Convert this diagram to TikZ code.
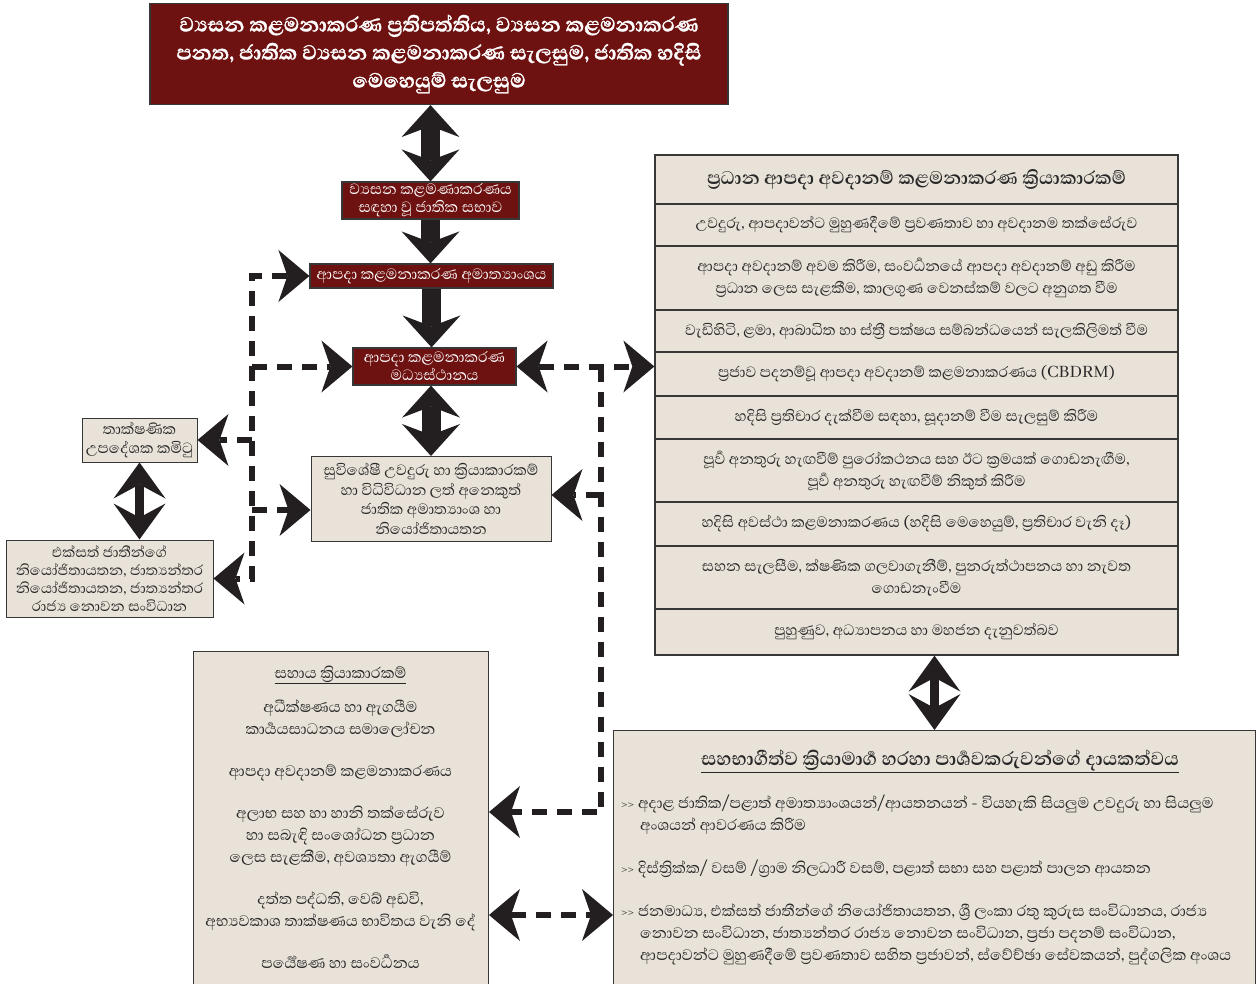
\documentclass[tikz,border=0pt]{standalone}
\usepackage{fontspec}
\setmainfont[Script=Sinhala]{Abhaya Libre}
\newfontfamily\heavyfont[Script=Sinhala,BoldFeatures={FakeBold=1.2}]{Abhaya Libre}
\usetikzlibrary{arrows.meta}
\definecolor{dred}{RGB}{110,17,17}
\definecolor{beige}{RGB}{232,226,216}
\definecolor{bordc}{RGB}{55,55,55}
\definecolor{arrc}{RGB}{35,31,32}
\definecolor{txtc}{RGB}{40,40,40}
\newcommand{\gts}{{\fontsize{14.5}{14}\selectfont >{}>}}
\begin{document}
\begin{tikzpicture}[x=1pt,y=-1pt,
  redbox/.style={draw=bordc,line width=1.2pt,fill=dred,text=white,align=center,inner sep=0pt},
  beigebox/.style={draw=bordc,line width=1pt,fill=beige,text=txtc,align=center,inner sep=0pt},
  rowbox/.style={beigebox,minimum width=523pt,line width=1.3pt,font=\fontsize{19}{22}\selectfont},
  ftip/.tip={Stealth[length=32pt,width=58pt,inset=11pt,line width=0pt]},
  ttip/.tip={Stealth[length=36pt,width=52pt,inset=14pt,line width=0pt]},
  dtip/.tip={Stealth[length=31pt,width=52pt,inset=9pt,line width=0pt]},
  fatline/.style={draw=arrc,line width=19pt},
  thinline/.style={draw=arrc,line width=9pt},
  dashconn/.style={draw=arrc,line width=6pt,dash pattern=on 15pt off 10pt}
]
\useasboundingbox (0,0) rectangle (1258,984);
\fill[white] (0,0) rectangle (1258,984);

% central column
\node[redbox,minimum width=578pt,minimum height=101pt,font=\heavyfont\bfseries\fontsize{26}{28}\selectfont] (top) at (439,54)
 {ව්^^^^200dයසන කළමනාකරණ ප්^^^^200dරතිපත්තිය, ව්^^^^200dයසන කළමනාකරණ\\
  පනත, ජාතික ව්^^^^200dයසන කළමනාකරණ සැලසුම, ජාතික හදිසි\\
  මෙහෙයුම් සැලසුම};
\node[redbox,minimum width=177pt,minimum height=37pt,font=\fontsize{19}{18}\selectfont] (box2) at (430.5,200.5)
 {ව්^^^^200dයසන කළමණාකරණය\\ සඳහා වූ ජාතික සභාව};
\node[redbox,minimum width=243pt,minimum height=24pt,font=\fontsize{19}{18}\selectfont] (box3) at (431.5,276)
 {ආපදා කළමනාකරණ අමාත්^^^^200dයාංශය};
\node[redbox,minimum width=163pt,minimum height=37pt,font=\fontsize{19}{18}\selectfont] (box4) at (434.5,366.5)
 {ආපදා කළමනාකරණ\\ මධ්^^^^200dයස්ථානය};
\node[beigebox,minimum width=240pt,minimum height=85pt,font=\fontsize{19}{19.5}\selectfont] (box5) at (431,499)
 {සුවිශේෂී උවදුරු හා ක්^^^^200dරියාකාරකම්\\ හා විධිවිධාන ලත් අනෙකුත්\\ ජාතික අමාත්^^^^200dයාංශ හා\\ නියෝජිතායතන};

% left column
\node[beigebox,minimum width=115pt,minimum height=44pt,font=\fontsize{19}{19}\selectfont] (box6) at (139.5,440)
 {තාක්ෂණික\\ උපදේශක කමිටු};
\node[beigebox,minimum width=207pt,minimum height=77pt,font=\fontsize{18.3}{18}\selectfont] (box7) at (109.5,578.5)
 {එක්සත් ජාතීන්ගේ\\ නියෝජිතායතන, ජාත්^^^^200dයන්තර\\ නියෝජිතායතන, ජාත්^^^^200dයන්තර\\ රාජ්^^^^200dය නොවන සංවිධාන};

% right table
\node[rowbox,minimum height=49pt,font=\bfseries\fontsize{23.4}{24}\selectfont] (row1) at (916.5,179.5)
 {ප්^^^^200dරධාන ආපදා අවදානම් කළමනාකරණ ක්^^^^200dරියාකාරකම්};
\node[rowbox,minimum height=42pt] (row2) at (916.5,225)
 {උවදුරු, ආපදාවන්ට මුහුණදීමේ ප්^^^^200dරවණතාව හා අවදානම තක්සේරුව};
\node[rowbox,minimum height=64pt] (row3) at (916.5,278)
 {ආපදා අවදානම් අවම කිරීම, සංවර්^^^^200dධනයේ ආපදා අවදානම් අඩු කිරීම\\
  ප්^^^^200dරධාන ලෙස සැළකීම, කාලගුණ වෙනස්කම් වලට අනුගත වීම};
\node[rowbox,minimum height=42pt] (row4) at (916.5,331)
 {වැඩිහිටි, ළමා, ආබාධිත හා ස්ත්^^^^200dරී පක්ෂය සම්බන්ධයෙන් සැලකිලිමත් වීම};
\node[rowbox,minimum height=44pt] (row5) at (916.5,374)
 {ප්^^^^200dරජාව පදනම්වූ ආපදා අවදානම් කළමනාකරණය (CBDRM)};
\node[rowbox,minimum height=43pt] (row6) at (916.5,417.5)
 {හදිසි ප්^^^^200dරතිචාර දැක්වීම සඳහා, සූදානම් වීම සැලසුම් කිරීම};
\node[rowbox,minimum height=63pt] (row7) at (916.5,470.5)
 {පූර්^^^^200dව අනතුරු හැඟවීම් පුරෝකථනය සහ ඊට ක්^^^^200dරමයක් ගොඩනැඟීම,\\
  පූර්^^^^200dව අනතුරු හැඟවීම් නිකුත් කිරීම};
\node[rowbox,minimum height=44pt] (row8) at (916.5,524)
 {හදිසි අවස්ථා කළමනාකරණය (හදිසි මෙහෙයුම්, ප්^^^^200dරතිචාර වැනි දෑ)};
\node[rowbox,minimum height=63pt] (row9) at (916.5,577.5)
 {සහන සැලසීම, ක්ෂණික ගලවාගැනීම්, පුනරුත්ථාපනය හා නැවත\\ ගොඩනැංවීම};
\node[rowbox,minimum height=46pt] (row10) at (916.5,632)
 {පුහුණුව, අධ්^^^^200dයාපනය හා මහජන දැනුවත්බව};

% bottom left box
\node[beigebox,anchor=north west,minimum width=295pt,minimum height=360pt] (bl) at (193,651) {};
\node[text=txtc,align=center,anchor=north,inner sep=0pt,font=\fontsize{19.5}{22}\selectfont] (bltext) at (340.5,665.5)
 {\underline{සහාය ක්^^^^200dරියාකාරකම්}\\[12pt]
  අධීක්ෂණය හා ඇගයීම\\
  කාර්^^^^200dයයසාධනය සමාලෝචන\\[20pt]
  ආපදා අවදානම් කළමනාකරණය\\[20pt]
  අලාභ සහ හා හානි තක්සේරුව\\
  හා සබැඳි සංශෝධන ප්^^^^200dරධාන\\
  ලෙස සැළකීම, අවශ්^^^^200dයතා ඇගයීම්\\[20pt]
  දත්ත පද්ධති, වෙබ් අඩවි,\\
  අභ්^^^^200dයවකාශ තාක්ෂණය භාවිතය වැනි දේ\\[20pt]
  පර්^^^^200dයේෂණ හා සංවර්^^^^200dධනය};

% bottom right box
\node[beigebox,anchor=north west,minimum width=642pt,minimum height=280pt] (br) at (613,730) {};
\node[text=txtc,inner sep=0pt,font=\bfseries\fontsize{24}{24}\selectfont] (brtitle) at (940,761)
 {\underline{සහභාගීත්ව ක්^^^^200dරියාමාර්^^^^200dග හරහා පාර්^^^^200dශවකරුවන්ගේ දායකත්වය}};
\node[text=txtc,align=left,anchor=north west,inner sep=0pt,font=\fontsize{19.5}{22}\selectfont] (brtext) at (621,794.5)
 {\gts\ අදාළ ජාතික/පළාත් අමාත්^^^^200dයාංශයන්/ආයතනයන් - වියහැකි සියලුම උවදුරු හා සියලුම\\
  \hspace*{19pt}අංශයන් ආවරණය කිරීම\\[21pt]
  \gts\ දිස්ත්^^^^200dරික්ක/ වසම් /ග්^^^^200dරාම නිලධාරී වසම්, පළාත් සභා සහ පළාත් පාලන ආයතන\\[21pt]
  \gts\ ජනමාධ්^^^^200dය, එක්සත් ජාතීන්ගේ නියෝජිතායතන, ශ්^^^^200dරී ලංකා රතු කුරුස සංවිධානය, රාජ්^^^^200dය\\
  \hspace*{19pt}නොවන සංවිධාන, ජාත්^^^^200dයන්තර රාජ්^^^^200dය නොවන සංවිධාන, ප්^^^^200dරජා පදනම් සංවිධාන,\\
  \hspace*{19pt}ආපදාවන්ට මුහුණදීමේ ප්^^^^200dරවණතාව සහිත ප්^^^^200dරජාවන්, ස්වේච්ඡා සේවකයන්, පුද්ගලික අංශය};

% fat arrows
\draw[fatline,ftip-ftip] (box2.north |- top.south) -- (box2.north);
\draw[fatline,-ftip] (box2.south) -- (box2.south |- box3.north);
\draw[fatline,-ftip] (box3.south) -- (box3.south |- box4.north);
\draw[fatline,ftip-ftip] (box5.north |- box4.south) -- (box5.north);
\draw[thinline,ttip-ttip] (box6.south) -- (box6.south |- box7.north);
\draw[thinline,ttip-ttip] (br.north |- row10.south) -- (br.north);

% dashed bus, left
\coordinate (busL1) at (252,276);
\coordinate (busL2) at (252,366.5);
\coordinate (busL3) at (252,440);
\coordinate (busL4) at (252,510);
\coordinate (busL5) at (252,578.5);
\draw[dashconn,dtip-dtip] (box3.west) -- (busL1) -- (busL5) -- (box7.east);
\draw[dashconn,-dtip] (busL2) -- (box4.west);
\draw[dashconn,-dtip] (busL3) -- (box6.east);
\draw[dashconn,-dtip] (busL4) -- (busL4 -| box5.west);

% dashed bus, right
\coordinate (busR1) at (601,366.5);
\coordinate (busR2) at (601,495);
\coordinate (busR3) at (601,812);
\coordinate (busB) at (550,915);
\draw[dashconn,dtip-dtip] (box4.east) -- (busR1 -| row5.west);
\draw[dashconn,-dtip] (busR1) -- (busR3) -- (busR3 -| bl.east);
\draw[dashconn,-dtip] (busR2) -- (busR2 -| box5.east);
\draw[dashconn,dtip-dtip] (busB -| bl.east) -- (busB -| br.west);
\end{tikzpicture}
\end{document}
